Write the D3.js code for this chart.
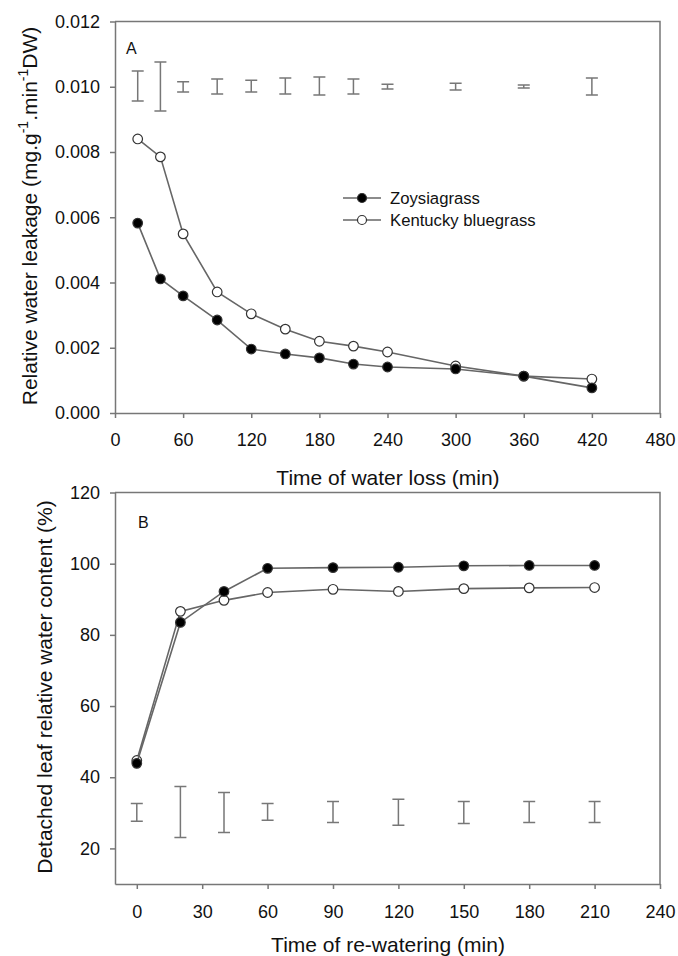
<!DOCTYPE html>
<html>
<head>
<meta charset="utf-8">
<script src="https://cdn.jsdelivr.net/npm/d3@7"></script>
<style>
  body { margin: 0; background: #fff; }
  text { font-family: "Liberation Sans", Arial, sans-serif; fill: #111; }
</style>
</head>
<body>
<script>
// panel A : water loss
const timeA = [20, 40, 60, 90, 120, 150, 180, 210, 240, 300, 360, 420];
const zoysiaA = [0.00582, 0.00411, 0.00359, 0.00285, 0.00196, 0.00181, 0.00169, 0.00150, 0.00141, 0.00135, 0.00113, 0.00077];
const kentuckyA = [0.00840, 0.00785, 0.00549, 0.00371, 0.00304, 0.00257, 0.00220, 0.00205, 0.00187, 0.00144, 0.00113, 0.00104];
const errLoA = [0.00956, 0.00926, 0.00984, 0.00978, 0.00984, 0.00978, 0.00975, 0.00978, 0.00993, 0.00990, 0.00996, 0.00975];
const errHiA = [0.01048, 0.01076, 0.01015, 0.01024, 0.01020, 0.01027, 0.01030, 0.01024, 0.01008, 0.01011, 0.01005, 0.01027];
const xTicksA = [0, 60, 120, 180, 240, 300, 360, 420, 480];
const yTicksA = [0, 0.002, 0.004, 0.006, 0.008, 0.010, 0.012];

// panel B : re-watering
const timeB = [0, 20, 40, 60, 90, 120, 150, 180, 210];
const zoysiaB = [43.9, 83.5, 92.2, 98.7, 98.9, 99.0, 99.4, 99.5, 99.5];
const kentuckyB = [44.7, 86.6, 89.7, 91.9, 92.8, 92.2, 93.0, 93.2, 93.3];
const errLoB = [27.6, 23.1, 24.5, 27.9, 27.3, 26.5, 27.0, 27.3, 27.3];
const errHiB = [32.6, 37.4, 35.7, 32.6, 33.2, 33.8, 33.2, 33.2, 33.2];
const xTicksB = [0, 30, 60, 90, 120, 150, 180, 210, 240];
const yTicksB = [20, 40, 60, 80, 100, 120];

const seriesNames = ["Zoysiagrass", "Kentucky bluegrass"];

const W = 678, H = 956;
const axisCol = "#777", lineCol = "#666";

const svg = d3.select("body").append("svg")
    .attr("width", W).attr("height", H);

function drawPanel(o) {
    const g = svg.append("g");
    const x = d3.scaleLinear().domain(o.xDom).range([115, 660]);
    const y = d3.scaleLinear().domain(o.yDom).range([o.bottom, o.top]);

    // frame (top and right)
    g.append("path")
        .attr("d", `M115,${o.top}H660V${o.bottom}`)
        .attr("fill", "none").attr("stroke", axisCol).attr("stroke-width", 1.5);

    const xa = g.append("g").attr("transform", `translate(0,${o.bottom})`)
        .call(d3.axisBottom(x).tickValues(o.xTicks).tickSize(5).tickSizeOuter(0).tickPadding(o.xPad));
    const ya = g.append("g").attr("transform", "translate(115,0)")
        .call(d3.axisLeft(y).tickValues(o.yTicks).tickSize(5).tickSizeOuter(0).tickPadding(10).tickFormat(o.yFmt));
    [xa, ya].forEach(a => {
        a.selectAll("path,line").attr("stroke", axisCol).attr("stroke-width", 1.5);
        a.selectAll("text").attr("font-size", 18).attr("fill", "#111")
            .attr("font-family", '"Liberation Sans", Arial, sans-serif');
    });

    // error bars
    const cap = 6;
    const eb = g.append("g").attr("stroke", axisCol).attr("stroke-width", 1.5).attr("fill", "none");
    o.xs.forEach((t, i) => {
        const cx = x(t), y1 = y(o.lo[i]), y2 = y(o.hi[i]);
        eb.append("path").attr("d", `M${cx - cap},${y1}H${cx + cap}M${cx},${y1}V${y2}M${cx - cap},${y2}H${cx + cap}`);
    });

    // series
    const line = d3.line().x(d => x(d[0])).y(d => y(d[1]));
    [[o.kent, "#fff"], [o.zoy, "#000"]].forEach(([vals, fill]) => {
        const pts = o.xs.map((t, i) => [t, vals[i]]);
        g.append("path").datum(pts).attr("d", line)
            .attr("fill", "none").attr("stroke", lineCol).attr("stroke-width", 1.6);
        g.selectAll(null).data(pts).enter().append("circle")
            .attr("cx", d => x(d[0])).attr("cy", d => y(d[1])).attr("r", 4.8)
            .attr("fill", fill).attr("stroke", "#333").attr("stroke-width", 1.2);
    });

    g.append("text").attr("x", o.lblX).attr("y", o.lblY).attr("font-size", 16).text(o.label);
    g.append("text").attr("x", 388).attr("y", o.xTitleY).attr("text-anchor", "middle")
        .attr("font-size", 21).text(o.xTitle);
    return {x, y, g};
}

const A = drawPanel({
    xDom: [0, 480], yDom: [0, 0.012], top: 21.5, bottom: 413,
    xTicks: xTicksA, yTicks: yTicksA, yFmt: d3.format(".3f"), xPad: 15,
    xs: timeA, zoy: zoysiaA, kent: kentuckyA, lo: errLoA, hi: errHiA,
    label: "A", lblX: 126, lblY: 54, xTitle: "Time of water loss (min)", xTitleY: 485
});

const B = drawPanel({
    xDom: [-10, 240], yDom: [10, 120], top: 492.5, bottom: 884,
    xTicks: xTicksB, yTicks: yTicksB, yFmt: d3.format("d"), xPad: 16,
    xs: timeB, zoy: zoysiaB, kent: kentuckyB, lo: errLoB, hi: errHiB,
    label: "B", lblX: 138, lblY: 528, xTitle: "Time of re-watering (min)", xTitleY: 952
});

// y titles
const ytA = svg.append("text").attr("transform", "translate(37,216) rotate(-90)")
    .attr("text-anchor", "middle").attr("font-size", 21);
ytA.append("tspan").text("Relative water leakage (mg.g");
ytA.append("tspan").attr("font-size", 14).attr("dy", -9).text("-1");
ytA.append("tspan").attr("dy", 9).text(".min");
ytA.append("tspan").attr("font-size", 14).attr("dy", -9).text("-1");
ytA.append("tspan").attr("dy", 9).text("DW)");

svg.append("text").attr("transform", "translate(52,687) rotate(-90)")
    .attr("text-anchor", "middle").attr("font-size", 21)
    .text("Detached leaf relative water content (%)");

// legend
const leg = svg.append("g");
seriesNames.forEach((n, i) => {
    const ly = 198 + i * 22;
    leg.append("line").attr("x1", 343).attr("x2", 381).attr("y1", ly).attr("y2", ly)
        .attr("stroke", lineCol).attr("stroke-width", 1.5);
    leg.append("circle").attr("cx", 362).attr("cy", ly).attr("r", 4.5)
        .attr("fill", i === 0 ? "#000" : "#fff").attr("stroke", "#333").attr("stroke-width", 1.2);
    leg.append("text").attr("x", 390).attr("y", ly + 6).attr("font-size", 16.7).text(n);
});
</script>
</body>
</html>
